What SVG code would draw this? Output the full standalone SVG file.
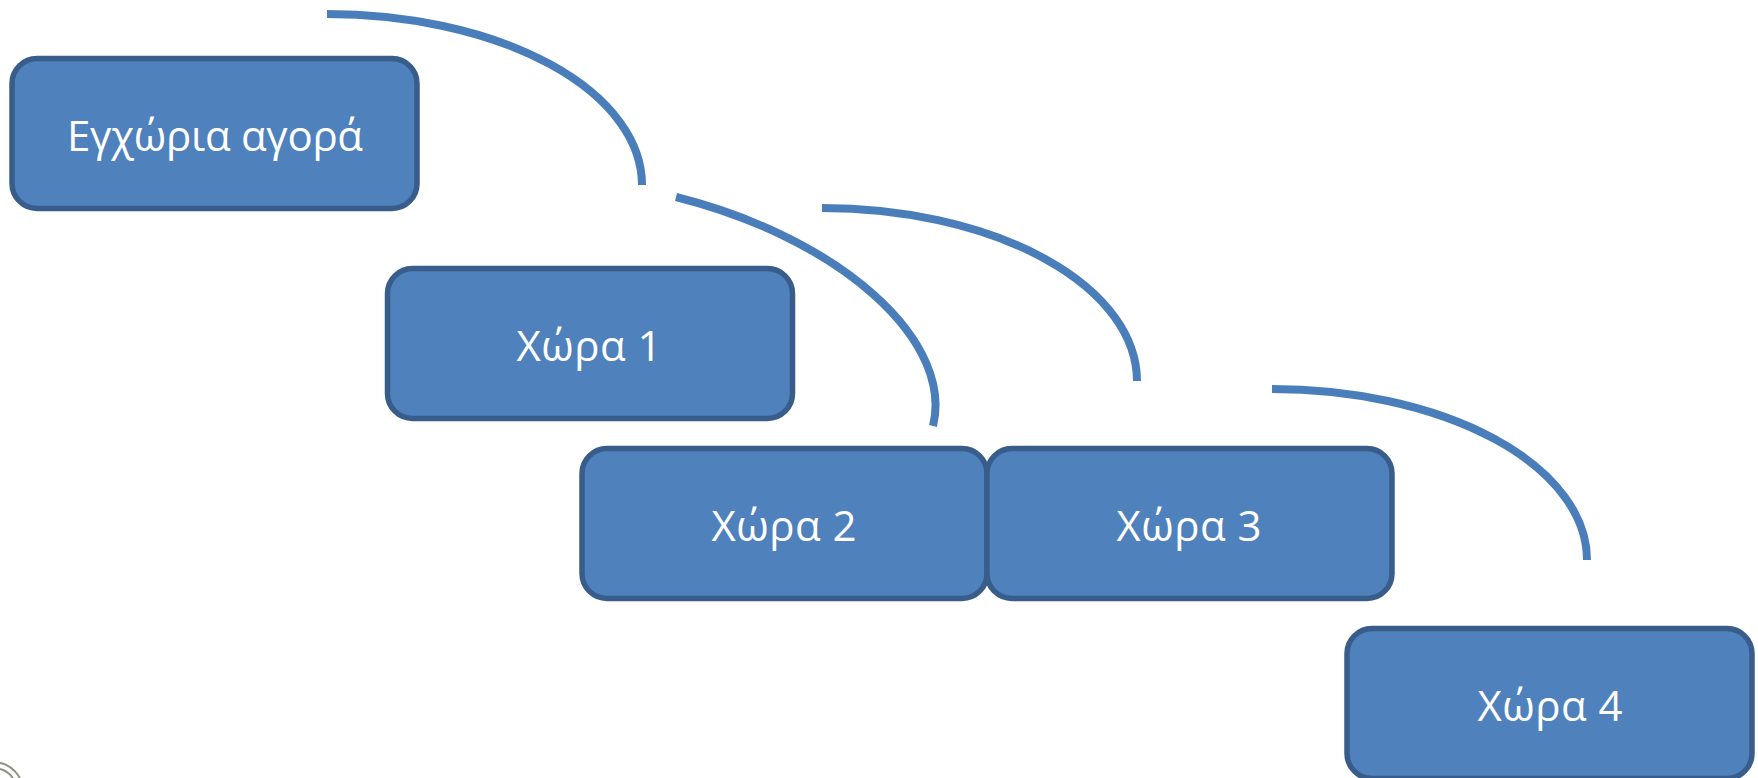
<svg xmlns="http://www.w3.org/2000/svg" width="1758" height="778" viewBox="0 0 1758 778">
<style>
.box{fill:#4f81bd;stroke:#385d8a;stroke-width:5.5}
.lbl{fill:#fff;font-family:"Open Sans","Noto Sans",sans-serif;font-size:42px;text-anchor:middle}
.arc{fill:none;stroke:#4a7ebb;stroke-width:8}
.seal{fill:none;stroke:#8f8f85;stroke-width:2}
</style>
<rect width="1758" height="778" fill="#fff"/>
<g id="connectors">
<path class="arc" d="M327 14A315 171 0 0 1 642 185"/>
<path class="arc" d="M676 197A305 160 14 0 1 933 426"/>
<path class="arc" d="M822 208A315 173 0 0 1 1137 381"/>
<path class="arc" d="M1272 389A315 171 0 0 1 1587 560"/>
</g>
<g id="node-home"><rect class="box" x="12" y="58.5" width="405" height="150" rx="25"/><text class="lbl" x="215" y="151" textLength="296">Εγχώρια αγορά</text></g>
<g id="node-1"><rect class="box" x="387.5" y="268.5" width="405" height="150" rx="25"/><text class="lbl" x="589" y="361" textLength="145">Χώρα 1</text></g>
<g id="node-2"><rect class="box" x="582" y="448.5" width="405" height="150" rx="25"/><text class="lbl" x="784" y="541" textLength="145">Χώρα 2</text></g>
<g id="node-3"><rect class="box" x="987" y="448.5" width="405" height="150" rx="25"/><text class="lbl" x="1189" y="541" textLength="145">Χώρα 3</text></g>
<g id="node-4"><rect class="box" x="1347" y="628.5" width="405" height="150" rx="25"/><text class="lbl" x="1550" y="721" textLength="145">Χώρα 4</text></g>
<g id="seal"><path class="seal" d="M0 763Q12 765 20 778M0 769Q8 771 13 778"/></g>
</svg>
